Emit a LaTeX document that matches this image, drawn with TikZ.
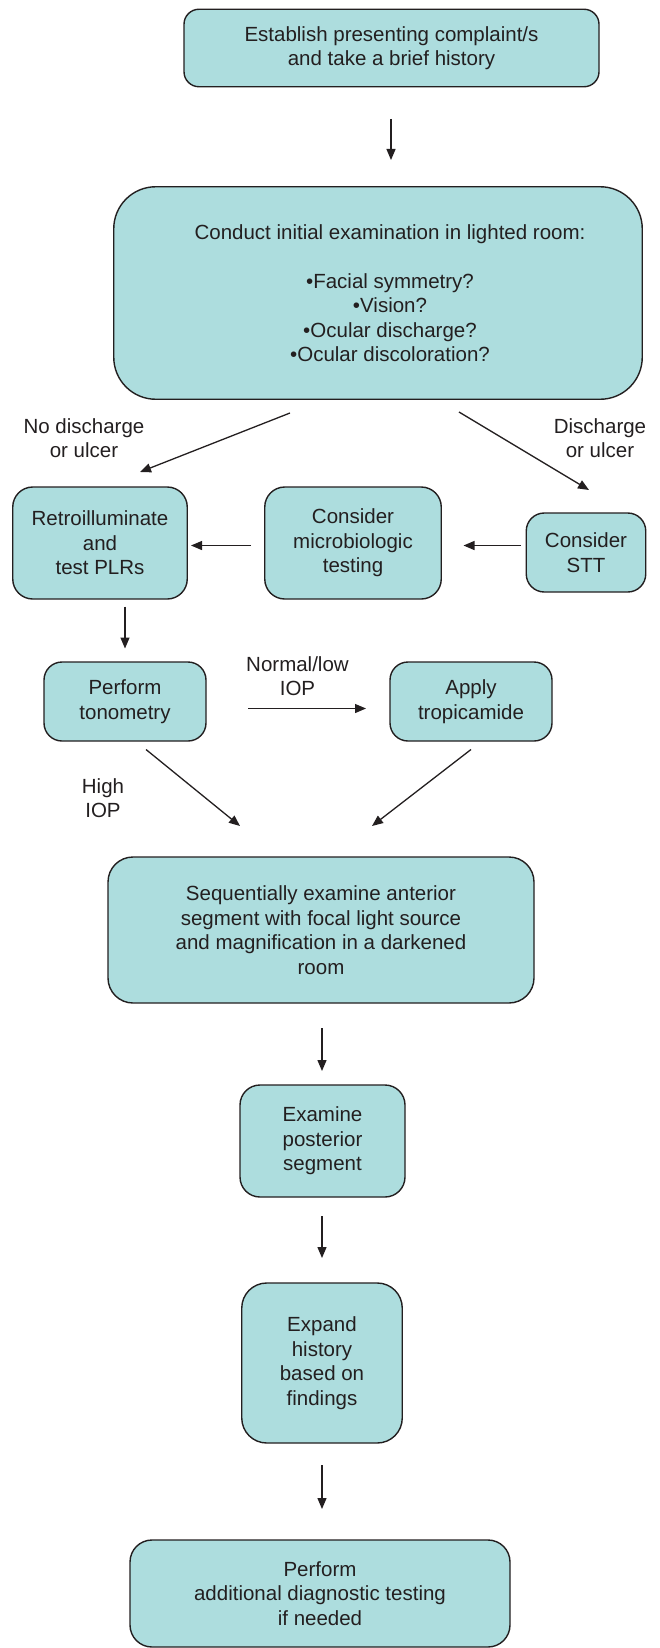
\documentclass[tikz,border=0pt]{standalone}
\usepackage{fontspec}
\setmainfont{Liberation Sans}
\usetikzlibrary{arrows.meta}
\definecolor{boxfill}{RGB}{173,221,222}
\definecolor{ink}{RGB}{35,31,32}
\begin{document}
\begin{tikzpicture}[x=1pt,y=-1pt,
  box/.style={draw=ink,fill=boxfill,line width=1.4pt,rounded corners=18pt,
    align=center,text=ink,inner sep=0pt,
    font=\fontsize{20.5}{24.5}\selectfont},
  lbl/.style={align=center,text=ink,inner sep=0pt,
    font=\fontsize{20.5}{24.5}\selectfont},
  arr/.style={draw=ink,line width=1.3pt,-{Triangle[length=11pt,width=9pt]}}]
\useasboundingbox (0,0) rectangle (659,1648);

\node[box,rounded corners=15pt,minimum width=415pt,minimum height=77.5pt] (n1) at (391.5,48)
  {Establish presenting complaint/s\\and take a brief history};
\node[box,rounded corners=42pt,minimum width=528.5pt,minimum height=212.5pt] (n2) at (378,293) {};
\node[lbl] (n2text) at (390,293)
  {Conduct initial examination in lighted room:\\[24.5pt]\textbullet Facial symmetry?\\\textbullet Vision?\\\textbullet Ocular discharge?\\\textbullet Ocular discoloration?};
\node[box,rounded corners=20pt,minimum width=174.5pt,minimum height=112pt] (retro) at (100,543)
  {Retroilluminate\\and\\test PLRs};
\node[box,rounded corners=20pt,minimum width=176.5pt,minimum height=112pt] (micro) at (353,543)
  {Consider\\microbiologic\\testing};
\node[box,rounded corners=18pt,minimum width=119.5pt,minimum height=79pt] (stt) at (586,552.5)
  {Consider\\STT};
\node[box,minimum width=162pt,minimum height=79pt] (tono) at (125,701.5)
  {Perform\\tonometry};
\node[box,minimum width=162pt,minimum height=79pt] (trop) at (471,701.5)
  {Apply\\tropicamide};
\node[box,rounded corners=25pt,minimum width=426pt,minimum height=146pt] (seq) at (321,930)
  {Sequentially examine anterior\\segment with focal light source\\and magnification in a darkened\\room};
\node[box,rounded corners=20pt,minimum width=165pt,minimum height=112pt] (post) at (322.5,1141)
  {Examine\\posterior\\segment};
\node[box,rounded corners=25pt,minimum width=160.5pt,minimum height=160pt] (expand) at (322,1363)
  {Expand\\history\\based on\\findings};
\node[box,rounded corners=22pt,minimum width=380pt,minimum height=107pt] (final) at (320,1593.5)
  {Perform\\additional diagnostic testing\\if needed};

\node[lbl] (lno) at (84,438) {No discharge\\or ulcer};
\node[lbl] (lyes) at (600,438) {Discharge\\or ulcer};
\node[lbl] (lnorm) at (297.5,676) {Normal/low\\IOP};
\node[lbl] (lhigh) at (103,798) {High\\IOP};

\coordinate (a1s) at (391,119);   \coordinate (a1e) at (391,160);
\coordinate (a2s) at (290,413);   \coordinate (a2e) at (140,472);
\coordinate (a3s) at (459,412);   \coordinate (a3e) at (589,490);
\coordinate (a4s) at (521,545.5); \coordinate (a4e) at (463.5,545.5);
\coordinate (a5s) at (251,545.5); \coordinate (a5e) at (191,545.5);
\coordinate (a6s) at (125,606.5); \coordinate (a6e) at (125,648.5);
\coordinate (a7s) at (248,708.5); \coordinate (a7e) at (366,708.5);
\coordinate (a8s) at (146,749.5); \coordinate (a8e) at (240,826);
\coordinate (a9s) at (471,749.5); \coordinate (a9e) at (372,826);
\coordinate (a10s) at (322,1028); \coordinate (a10e) at (322,1071);
\coordinate (a11s) at (322,1216); \coordinate (a11e) at (322,1258);
\coordinate (a12s) at (322,1465); \coordinate (a12e) at (322,1509);

\foreach \i in {1,...,12} {\draw[arr] (a\i s) -- (a\i e);}
\end{tikzpicture}
\end{document}
